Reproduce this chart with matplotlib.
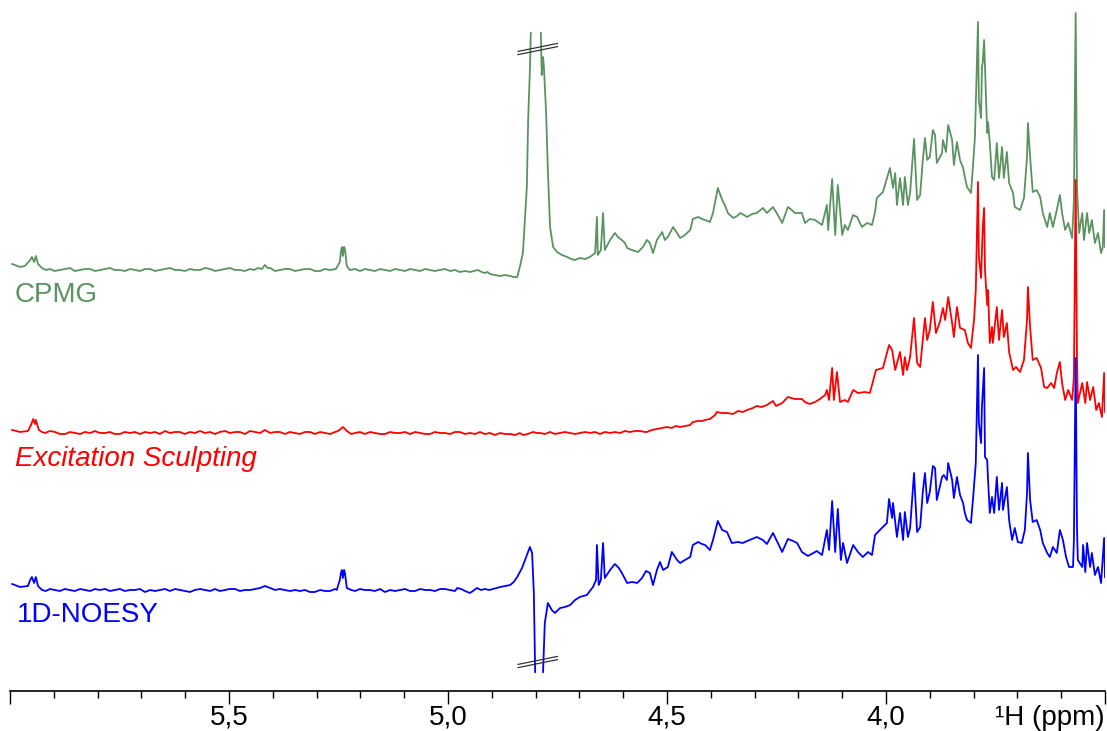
import numpy as np
import matplotlib.pyplot as plt

plt.rcParams['font.family'] = ['Liberation Sans', 'DejaVu Sans']

nan = np.nan

# (ppm, intensity above the trace's own baseline)
cpmg = [
    (5.995, 6), (5.977, 3), (5.966, 4), (5.954, 10), (5.950, 13), (5.945, 8), (5.941, 14),
    (5.936, 6), (5.927, 2), (5.918, 0), (5.909, 1), (5.898, -1), (5.886, 0), (5.875, 1),
    (5.863, 2), (5.852, -1), (5.840, 0), (5.829, 1), (5.817, 1), (5.806, -1), (5.795, 0),
    (5.783, 1), (5.772, 2), (5.761, 0), (5.749, 0), (5.738, -1), (5.726, 1), (5.715, 0),
    (5.703, -1), (5.692, 1), (5.680, 1), (5.669, -1), (5.658, 0), (5.646, 1), (5.635, 2),
    (5.623, 0), (5.612, 0), (5.601, -1), (5.589, 1), (5.578, 0), (5.566, 0), (5.555, 2),
    (5.543, 1), (5.532, -1), (5.521, 0), (5.509, 1), (5.498, 2), (5.486, 0), (5.475, 0),
    (5.464, -1), (5.452, 1), (5.443, 0), (5.434, 2), (5.425, 1), (5.418, 5), (5.412, 2),
    (5.406, 2), (5.395, -1), (5.384, 0), (5.372, 1), (5.361, 1), (5.349, -1), (5.338, 0),
    (5.327, 1), (5.315, 1), (5.304, -1), (5.292, -1), (5.281, 1), (5.269, 0), (5.256, 1),
    (5.247, 8), (5.244, 20), (5.242, 23), (5.240, 14), (5.237, 23), (5.235, 20), (5.231, 4),
    (5.224, 0), (5.212, 1), (5.201, -1), (5.190, 1), (5.178, 0), (5.167, -1), (5.155, 1),
    (5.144, 0), (5.132, -1), (5.121, 1), (5.110, 0), (5.098, -1), (5.087, 1), (5.075, 0),
    (5.064, -1), (5.052, 1), (5.041, 0), (5.030, -1), (5.018, 0), (5.007, 1), (4.995, -1),
    (4.984, 0), (4.973, -2), (4.961, -1), (4.950, -2), (4.941, -1), (4.932, 0), (4.923, -2),
    (4.916, -3), (4.910, -2), (4.904, -4), (4.893, -5), (4.881, -6), (4.870, -5), (4.858, -6),
    (4.850, -7), (4.842, -7), (4.836, 3), (4.829, 17), (4.820, 83), (4.817, 150), (4.813, 200),
    (4.811, 237), (4.800, nan), (4.788, 237), (4.786, 195), (4.783, 213), (4.781, 203),
    (4.776, 157), (4.772, 100), (4.767, 43), (4.760, 23), (4.751, 18), (4.740, 15),
    (4.728, 13), (4.719, 11), (4.710, 10), (4.699, 12), (4.687, 11), (4.676, 13), (4.664, 17),
    (4.660, 53), (4.658, 15), (4.651, 20), (4.646, 57), (4.642, 20), (4.630, 30), (4.619, 37),
    (4.612, 33), (4.603, 30), (4.596, 27), (4.591, 22), (4.580, 20), (4.566, 18), (4.555, 23),
    (4.546, 30), (4.539, 27), (4.532, 17), (4.523, 30), (4.511, 38), (4.505, 30), (4.498, 33),
    (4.486, 43), (4.477, 37), (4.470, 32), (4.459, 35), (4.447, 40), (4.441, 51), (4.429, 53),
    (4.420, 51), (4.413, 50), (4.402, 48), (4.395, 57), (4.384, 82), (4.374, 70), (4.368, 65),
    (4.361, 57), (4.349, 52), (4.340, 54), (4.333, 57), (4.324, 55), (4.317, 53), (4.306, 56),
    (4.295, 57), (4.281, 62), (4.272, 57), (4.258, 63), (4.247, 55), (4.237, 47), (4.224, 63),
    (4.215, 60), (4.208, 57), (4.192, 57), (4.185, 47), (4.174, 51), (4.162, 50), (4.146, 45),
    (4.135, 65), (4.132, 40), (4.123, 91), (4.116, 35), (4.110, 85), (4.100, 35), (4.094, 45),
    (4.087, 40), (4.075, 55), (4.066, 53), (4.055, 43), (4.043, 47), (4.032, 45), (4.025, 58),
    (4.021, 72), (4.007, 78), (3.991, 102), (3.984, 82), (3.979, 97), (3.975, 65), (3.968, 92),
    (3.961, 65), (3.957, 93), (3.950, 65), (3.945, 77), (3.936, 131), (3.929, 70), (3.922, 75),
    (3.916, 110), (3.911, 132), (3.906, 110), (3.900, 113), (3.893, 140), (3.888, 135),
    (3.884, 107), (3.872, 117), (3.870, 130), (3.863, 118), (3.858, 145), (3.849, 130),
    (3.845, 105), (3.838, 128), (3.831, 110), (3.824, 102), (3.820, 93), (3.815, 83),
    (3.806, 77), (3.801, 107), (3.797, 133), (3.790, 248), (3.788, 170), (3.783, 152),
    (3.781, 203), (3.779, 208), (3.776, 230), (3.772, 177), (3.769, 137), (3.767, 148),
    (3.763, 127), (3.758, 93), (3.753, 90), (3.747, 127), (3.742, 92), (3.735, 123),
    (3.731, 92), (3.724, 118), (3.719, 87), (3.710, 77), (3.706, 63), (3.694, 60), (3.685, 72),
    (3.678, 113), (3.676, 147), (3.671, 113), (3.665, 78), (3.656, 80), (3.648, 73),
    (3.642, 57), (3.632, 43), (3.626, 57), (3.619, 43), (3.610, 60), (3.603, 75), (3.598, 57),
    (3.591, 40), (3.584, 47), (3.575, 32), (3.571, 70), (3.567, 257), (3.564, 83), (3.559, 37),
    (3.552, 57), (3.548, 30), (3.541, 57), (3.536, 37), (3.530, 50), (3.523, 27), (3.516, 37),
    (3.509, 17), (3.505, 23), (3.502, 60), (3.500, 23),
]

excitation = [
    (5.995, 3), (5.977, 1), (5.959, 2), (5.952, 8), (5.947, 14), (5.943, 9), (5.941, 13),
    (5.934, 3), (5.927, 1), (5.920, 0), (5.909, 2), (5.897, 1), (5.886, -1), (5.874, -1),
    (5.863, 1), (5.852, 0), (5.840, -1), (5.829, 1), (5.817, 0), (5.806, 2), (5.795, 0),
    (5.783, 0), (5.772, 1), (5.761, -1), (5.749, -1), (5.738, 1), (5.726, 0), (5.715, 1),
    (5.703, -1), (5.692, 1), (5.680, 0), (5.669, 1), (5.658, -1), (5.646, 2), (5.635, 0),
    (5.623, 1), (5.612, 1), (5.601, -1), (5.589, 1), (5.578, 0), (5.566, 2), (5.555, 0),
    (5.543, 1), (5.532, -1), (5.521, 1), (5.509, 2), (5.498, 0), (5.486, 1), (5.475, 1),
    (5.464, -1), (5.452, 2), (5.441, 1), (5.429, 0), (5.418, 3), (5.406, 0), (5.395, 1),
    (5.384, 1), (5.372, -1), (5.361, 1), (5.349, 0), (5.338, -1), (5.327, 1), (5.315, 1),
    (5.304, -1), (5.292, 1), (5.281, 0), (5.269, -1), (5.258, 1), (5.251, 2), (5.245, 4),
    (5.240, 6), (5.235, 4), (5.231, 2), (5.221, -1), (5.212, 0), (5.201, 1), (5.190, -1),
    (5.178, 1), (5.167, 0), (5.155, -1), (5.144, -1), (5.132, 1), (5.121, 0), (5.110, 0),
    (5.098, 1), (5.087, -1), (5.075, 1), (5.064, 0), (5.052, -1), (5.041, -1), (5.030, 1),
    (5.018, 0), (5.007, 0), (4.995, -1), (4.984, 1), (4.973, 1), (4.961, -1), (4.950, 0),
    (4.938, -1), (4.927, 1), (4.916, -1), (4.904, 0), (4.893, -2), (4.881, 0), (4.870, -1),
    (4.858, -1), (4.847, -2), (4.836, 0), (4.829, -2), (4.818, -1), (4.806, 1), (4.797, 0),
    (4.790, 0), (4.779, -1), (4.767, 1), (4.756, -1), (4.744, 0), (4.733, 1), (4.721, 0),
    (4.710, -1), (4.699, 0), (4.687, 1), (4.676, 0), (4.664, 1), (4.653, -1), (4.642, 1),
    (4.630, 0), (4.619, 1), (4.607, 0), (4.596, 2), (4.585, 1), (4.573, 2), (4.562, 2),
    (4.550, 1), (4.546, 1), (4.535, 3), (4.523, 4), (4.511, 5), (4.500, 6), (4.489, 5),
    (4.480, 7), (4.470, 6), (4.459, 7), (4.447, 8), (4.441, 11), (4.430, 12), (4.420, 12),
    (4.413, 13), (4.402, 14), (4.390, 18), (4.386, 21), (4.375, 20), (4.363, 20), (4.349, 19),
    (4.338, 22), (4.327, 21), (4.317, 23), (4.304, 25), (4.295, 27), (4.284, 26), (4.272, 28),
    (4.258, 32), (4.251, 27), (4.237, 30), (4.224, 36), (4.208, 34), (4.192, 34), (4.185, 31),
    (4.174, 29), (4.162, 31), (4.151, 34), (4.139, 38), (4.135, 43), (4.130, 33), (4.123, 65),
    (4.119, 33), (4.112, 61), (4.105, 31), (4.094, 33), (4.087, 31), (4.075, 43), (4.064, 40),
    (4.048, 41), (4.037, 40), (4.030, 51), (4.023, 63), (4.007, 65), (3.993, 88), (3.986, 83),
    (3.979, 63), (3.968, 81), (3.961, 58), (3.957, 76), (3.952, 63), (3.945, 76), (3.936, 115),
    (3.929, 70), (3.922, 66), (3.911, 115), (3.906, 93), (3.900, 103), (3.893, 131),
    (3.886, 100), (3.877, 111), (3.870, 125), (3.865, 113), (3.858, 136), (3.849, 110),
    (3.845, 96), (3.838, 126), (3.831, 105), (3.820, 103), (3.813, 90), (3.806, 85),
    (3.799, 113), (3.795, 143), (3.790, 251), (3.788, 176), (3.783, 155), (3.779, 206),
    (3.776, 225), (3.774, 163), (3.769, 128), (3.767, 143), (3.763, 90), (3.758, 106),
    (3.756, 90), (3.747, 126), (3.742, 93), (3.735, 123), (3.731, 96), (3.724, 110),
    (3.719, 81), (3.710, 63), (3.703, 66), (3.694, 61), (3.685, 73), (3.678, 113), (3.676, 146),
    (3.671, 106), (3.665, 73), (3.656, 75), (3.646, 65), (3.639, 46), (3.632, 45), (3.623, 50),
    (3.616, 45), (3.610, 60), (3.603, 71), (3.598, 50), (3.591, 33), (3.584, 43), (3.575, 33),
    (3.571, 56), (3.567, 253), (3.564, 76), (3.562, 30), (3.552, 50), (3.545, 30), (3.541, 51),
    (3.534, 33), (3.527, 46), (3.520, 23), (3.514, 30), (3.507, 16), (3.502, 60), (3.500, 21),
]

noesy = [
    (5.995, 6), (5.977, 3), (5.959, 4), (5.954, 10), (5.950, 13), (5.945, 7), (5.941, 13),
    (5.936, 4), (5.927, 0), (5.918, -1), (5.909, 1), (5.898, 0), (5.886, -1), (5.875, 1),
    (5.863, 0), (5.852, -1), (5.840, 1), (5.829, 0), (5.817, -1), (5.806, 1), (5.795, 0),
    (5.783, 1), (5.772, -1), (5.761, 0), (5.749, 1), (5.738, -1), (5.726, 0), (5.715, 0),
    (5.703, 1), (5.692, -2), (5.680, 0), (5.669, -1), (5.658, 0), (5.646, 1), (5.635, -1),
    (5.623, 1), (5.612, 0), (5.601, -1), (5.589, -2), (5.578, 0), (5.566, 1), (5.555, 0),
    (5.543, -1), (5.532, 1), (5.521, -1), (5.509, 0), (5.498, 1), (5.486, 1), (5.475, -1),
    (5.464, 0), (5.452, 0), (5.441, 1), (5.429, 2), (5.418, 4), (5.406, 2), (5.395, 0),
    (5.384, 1), (5.372, 0), (5.361, -1), (5.349, 0), (5.338, -1), (5.327, 0), (5.315, -2),
    (5.304, -2), (5.292, 0), (5.281, -1), (5.269, -1), (5.258, 1), (5.254, 0), (5.247, 10),
    (5.244, 18), (5.242, 20), (5.240, 12), (5.237, 20), (5.235, 16), (5.231, 2), (5.221, 0),
    (5.212, -1), (5.201, 1), (5.190, 0), (5.178, 0), (5.167, -1), (5.155, 1), (5.144, -2),
    (5.132, 0), (5.121, -1), (5.110, 0), (5.098, 1), (5.087, -1), (5.075, -1), (5.064, 1),
    (5.052, 0), (5.041, 0), (5.030, -1), (5.018, 1), (5.007, 1), (4.995, 0), (4.984, -1),
    (4.979, 2), (4.970, 1), (4.961, -1), (4.950, -3), (4.943, -1), (4.934, 2), (4.925, 0),
    (4.916, 1), (4.906, 0), (4.897, 1), (4.889, 2), (4.881, 3), (4.870, 4), (4.858, 5),
    (4.850, 8), (4.842, 13), (4.831, 22), (4.820, 35), (4.813, 43), (4.808, 37), (4.804, -3),
    (4.801, -82), (4.792, nan), (4.783, -82), (4.779, -33), (4.772, -13), (4.763, -20),
    (4.756, -23), (4.744, -18), (4.733, -17), (4.721, -15), (4.710, -10), (4.699, -7),
    (4.683, -5), (4.669, 3), (4.662, 10), (4.660, 45), (4.656, 5), (4.651, 10), (4.646, 47),
    (4.642, 12), (4.630, 20), (4.619, 26), (4.610, 22), (4.603, 17), (4.591, 7), (4.580, 8),
    (4.568, 7), (4.557, 12), (4.548, 19), (4.539, 17), (4.532, 5), (4.523, 20), (4.516, 28),
    (4.509, 20), (4.498, 23), (4.489, 38), (4.477, 30), (4.470, 27), (4.459, 30), (4.447, 33),
    (4.441, 45), (4.429, 48), (4.420, 46), (4.413, 45), (4.402, 40), (4.395, 50), (4.384, 69),
    (4.374, 60), (4.363, 58), (4.352, 47), (4.338, 48), (4.327, 47), (4.317, 49), (4.306, 51),
    (4.295, 53), (4.281, 50), (4.272, 46), (4.258, 57), (4.247, 47), (4.237, 38), (4.224, 51),
    (4.212, 49), (4.203, 47), (4.192, 38), (4.178, 34), (4.158, 39), (4.146, 35), (4.135, 60),
    (4.130, 40), (4.123, 89), (4.116, 38), (4.110, 81), (4.103, 30), (4.098, 47), (4.089, 27),
    (4.075, 45), (4.064, 38), (4.053, 33), (4.041, 38), (4.032, 35), (4.025, 55), (4.014, 60),
    (3.998, 67), (3.993, 91), (3.986, 72), (3.984, 87), (3.975, 53), (3.968, 77), (3.961, 50),
    (3.957, 78), (3.950, 53), (3.945, 62), (3.936, 117), (3.929, 58), (3.922, 63), (3.916, 98),
    (3.911, 117), (3.906, 87), (3.900, 98), (3.893, 124), (3.888, 122), (3.884, 90),
    (3.872, 113), (3.868, 115), (3.861, 110), (3.858, 127), (3.849, 110), (3.845, 92),
    (3.838, 113), (3.831, 95), (3.824, 87), (3.820, 77), (3.815, 70), (3.806, 67), (3.801, 93),
    (3.795, 127), (3.790, 235), (3.788, 167), (3.783, 147), (3.781, 183), (3.776, 222),
    (3.774, 133), (3.769, 130), (3.767, 110), (3.763, 77), (3.758, 93), (3.753, 77),
    (3.747, 113), (3.742, 80), (3.735, 107), (3.733, 80), (3.724, 103), (3.719, 70),
    (3.712, 50), (3.706, 62), (3.699, 48), (3.690, 47), (3.683, 60), (3.678, 97), (3.676, 137),
    (3.671, 90), (3.665, 68), (3.656, 70), (3.648, 60), (3.642, 47), (3.632, 37), (3.626, 33),
    (3.619, 43), (3.610, 37), (3.603, 60), (3.596, 50), (3.589, 33), (3.582, 23), (3.573, 23),
    (3.571, 50), (3.567, 232), (3.564, 63), (3.562, 30), (3.552, 23), (3.550, 45), (3.545, 18),
    (3.541, 47), (3.534, 23), (3.530, 37), (3.523, 15), (3.516, 23), (3.509, 7), (3.502, 52),
    (3.500, 13),
]

labels = ['CPMG', 'Excitation Sculpting', '1D-NOESY']
colors = ['#5b9360', '#ff0000', '#0000ff']
offsets = [421, 258, 101]

# level where the water signal is cut (break marks), own baseline units
break_green = 221
break_blue = -72
break_ppm = 4.795

major = [6.0, 5.5, 5.0, 4.5, 4.0, 3.5]
major_labels = ['', '5,5', '5,0', '4,5', '4,0', '']
minor = np.arange(3.5, 6.001, 0.1)

fig = plt.figure(figsize=(11.07, 7.31), dpi=100)
ax = fig.add_axes([10 / 1107, 40 / 731, 1095 / 1107, 691 / 731])

for data, c, off in zip([cpmg, excitation, noesy], colors, offsets):
    x, y = zip(*data)
    ax.plot(x, np.array(y, dtype=float) + off, color=c, lw=1.3, solid_joinstyle='round')

# break marks on the water peak
for lvl, off in [(break_green, offsets[0]), (break_blue, offsets[2])]:
    for d in (-1.6, 1.6):
        ax.plot([break_ppm + 0.045, break_ppm - 0.045],
                [off + lvl - 4 + d, off + lvl + 4 + d], color='#333333', lw=0.9)

ax.text(5.99, offsets[0] - 32, labels[0], color=colors[0], fontsize=20, va='baseline')
ax.text(5.988, offsets[1] - 33, labels[1], color=colors[1], fontsize=20,
        style='italic', va='baseline')
ax.text(5.984, offsets[2] - 32, labels[2], color=colors[2], fontsize=20, va='baseline')

ax.set_xlim(6.0, 3.5)
ax.set_ylim(0, 691)
for s in ['left', 'right', 'top']:
    ax.spines[s].set_visible(False)
ax.spines['bottom'].set_linewidth(1.2)
ax.set_yticks([])
ax.set_xticks(major)
ax.set_xticklabels(major_labels, fontsize=20)
ax.set_xticks(minor, minor=True)
ax.tick_params(axis='x', which='major', length=9, width=1, direction='out', pad=1)
ax.tick_params(axis='x', which='minor', length=5, width=1, direction='out')
ax.annotate('¹H (ppm)', xy=(3.5, 0), xycoords=('data', 'axes fraction'),
            xytext=(0, -10), textcoords='offset points', ha='right', va='top',
            fontsize=20, annotation_clip=False)
ax.patch.set_visible(False)

fig.savefig('out.png', dpi=100)
